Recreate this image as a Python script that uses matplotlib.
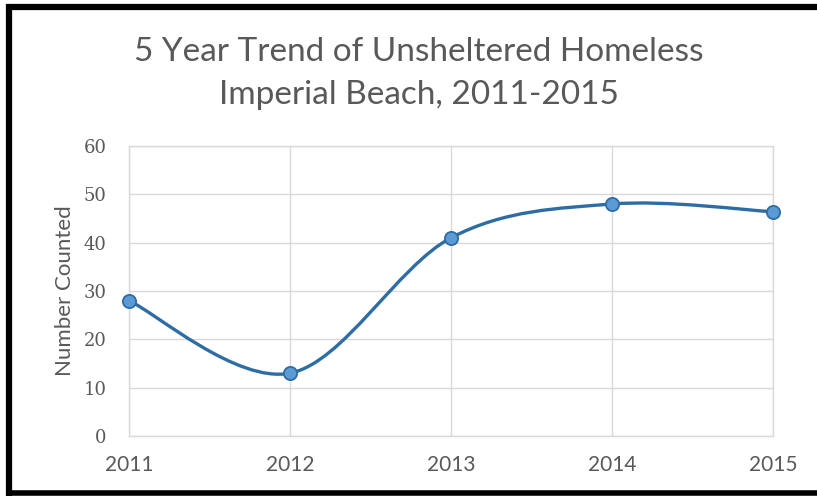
import numpy as np
import matplotlib
matplotlib.use("Agg")
import matplotlib.pyplot as plt
from matplotlib.path import Path
from matplotlib.patches import PathPatch
from matplotlib.lines import Line2D

years = [2011, 2012, 2013, 2014, 2015]
counts = [28, 13, 41, 48, 46.4]
y_ticks = [0, 10, 20, 30, 40, 50, 60]

line_color = "#2E6DA4"
marker_color = "#5B9BD5"
grid_color = "#D9D9D9"
text_color = "#595959"


def smooth_path(xs, ys):
    # Excel-style smoothed line: cubic Bezier through the points
    pts = np.column_stack([xs, ys]).astype(float)
    n = len(pts)
    verts = [pts[0]]
    codes = [Path.MOVETO]
    for i in range(n - 1):
        p_prev = pts[max(i - 1, 0)]
        p0 = pts[i]
        p1 = pts[i + 1]
        p_next = pts[min(i + 2, n - 1)]
        c1 = p0 + (p1 - p_prev) / 6
        c2 = p1 - (p_next - p0) / 6
        verts += [c1, c2, p1]
        codes += [Path.CURVE4] * 3
    return Path(verts, codes)


fig = plt.figure(figsize=(8.17, 4.96), dpi=100)
ax = fig.add_axes([129 / 817, 1 - 436 / 496, (773 - 129) / 817, (436 - 146) / 496])

patch = PathPatch(smooth_path(years, counts), facecolor="none",
                  edgecolor=line_color, lw=2.4, zorder=3, capstyle="round")
ax.add_patch(patch)
ax.plot(years, counts, linestyle="none", marker="o", markersize=9.5,
        markerfacecolor=marker_color, markeredgecolor=line_color,
        markeredgewidth=1.3, zorder=4, clip_on=False)

ax.set_xlim(2011, 2015)
ax.set_ylim(0, 60)
ax.set_xticks(years)
ax.set_yticks(y_ticks)
ax.grid(True, color=grid_color, lw=1)
ax.set_axisbelow(True)
for s in ax.spines.values():
    s.set_color(grid_color)
    s.set_linewidth(1)
ax.tick_params(length=0, colors=text_color)
ax.tick_params(axis="x", pad=14)
ax.tick_params(axis="y", pad=16)
for lbl in ax.get_xticklabels():
    lbl.set_fontfamily("Lato")
    lbl.set_fontsize(15)
for lbl in ax.get_yticklabels():
    lbl.set_fontfamily("DejaVu Serif")
    lbl.set_fontsize(13)
ax.set_ylabel("Number Counted", fontsize=16, family="Lato", color=text_color, labelpad=6)

title_x = 419 / 817
fig.text(title_x, 1 - 52 / 496, "5 Year Trend of Unsheltered Homeless", ha="center", va="center",
         fontsize=24, family="Lato", color=text_color)
fig.text(title_x, 1 - 95 / 496, "Imperial Beach, 2011-2015", ha="center", va="center",
         fontsize=24, family="Lato", color=text_color)

# black frame around the chart
fig.add_artist(Line2D([8.5 / 817, 8.5 / 817], [0, 1 - 4 / 496], color="black", lw=4.5,
                      transform=fig.transFigure, solid_capstyle="butt"))
fig.add_artist(Line2D([6 / 817, 1], [1 - 6.5 / 496, 1 - 6.5 / 496], color="black", lw=4.5,
                      transform=fig.transFigure, solid_capstyle="butt"))
fig.add_artist(Line2D([6 / 817, 1], [3 / 496, 3 / 496], color="black", lw=4,
                      transform=fig.transFigure, solid_capstyle="butt"))

fig.savefig("out.png", dpi=100)
